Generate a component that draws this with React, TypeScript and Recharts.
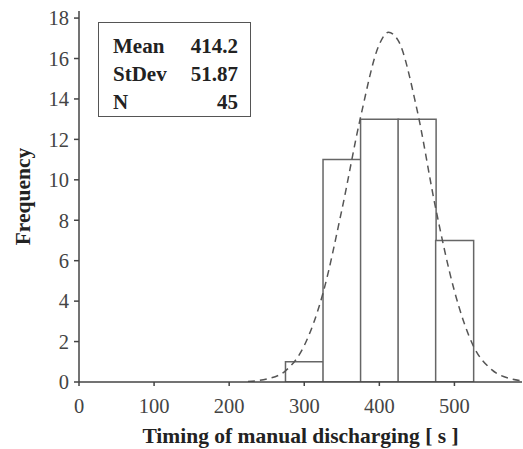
import { ComposedChart, Bar, Line, XAxis, YAxis } from 'recharts';

// histogram bins (bin width 50, centres) and counts
const binMid = [300, 350, 400, 450, 500];
const binCount = [1, 11, 13, 13, 7];

// fitted normal curve
const curveX = [225, 250, 275, 300, 325, 350, 375, 400, 412, 425, 450, 475, 500, 525, 550, 575, 590];
const curveY = [0.03, 0.15, 0.55, 1.8, 4.4, 8.5, 13.1, 16.7, 17.3, 16.9, 13.5, 8.6, 4.5, 1.8, 0.6, 0.16, 0.06];

const xTicks = [0, 100, 200, 300, 400, 500];
const yTicks = [0, 2, 4, 6, 8, 10, 12, 14, 16, 18];

const statLabels = ['Mean', 'StDev', 'N'];
const statValues = ['414.2', '51.87', '45'];

const bars = binMid.map((mid, i) => ({ mid, count: binCount[i] }));
const curve = curveX.map((x, i) => ({ x, y: curveY[i] }));

const font = '"Liberation Serif", "Times New Roman", serif';
const tickStyle = { fontSize: 20.5, fill: '#444', fontFamily: font };

export default function App() {
  return (
    <div style={{ position: 'absolute', left: 0, top: 0, width: 523, height: 449, background: '#fff' }}>
      <ComposedChart
        width={523}
        height={449}
        data={bars}
        margin={{ top: 11, right: 1, left: 0, bottom: 0 }}
        barCategoryGap={0}
        barGap={0}
      >
        <XAxis
          dataKey="mid"
          type="number"
          domain={[0, 590]}
          allowDataOverflow
          ticks={xTicks}
          tickSize={4}
          tickMargin={12}
          height={67}
          stroke="#444"
          strokeWidth={1.5}
          tick={tickStyle}
          label={{
            value: 'Timing of manual discharging [ s ]',
            position: 'insideBottom',
            offset: 6,
            style: { fontSize: 21.5, fontWeight: 'bold', fill: '#222', fontFamily: font },
          }}
        />
        <XAxis xAxisId="curve" dataKey="x" type="number" domain={[0, 590]} allowDataOverflow hide />
        <XAxis
          xAxisId="top"
          orientation="top"
          type="number"
          domain={[0, 590]}
          height={0}
          tick={false}
          tickLine={false}
          stroke="#777"
          strokeWidth={2}
        />
        <YAxis
          domain={[0, 18.35]}
          allowDataOverflow
          ticks={yTicks}
          tickSize={5}
          tickMargin={5}
          width={79}
          stroke="#444"
          strokeWidth={1.5}
          tick={tickStyle}
          label={{
            value: 'Frequency',
            angle: -90,
            position: 'insideLeft',
            offset: 22,
            style: { textAnchor: 'middle', fontSize: 21.5, fontWeight: 'bold', fill: '#222', fontFamily: font },
          }}
        />
        <YAxis
          yAxisId="right"
          orientation="right"
          domain={[0, 18.35]}
          width={0}
          tick={false}
          tickLine={false}
          stroke="#ccc"
        />
        <Bar dataKey="count" fill="#fff" stroke="#666" strokeWidth={1.5} isAnimationActive={false} />
        <Line
          xAxisId="curve"
          data={curve}
          dataKey="y"
          type="monotone"
          stroke="#555"
          strokeWidth={1.5}
          strokeDasharray="7 5"
          dot={false}
          isAnimationActive={false}
        />
      </ComposedChart>
      <div
        style={{
          position: 'absolute',
          left: 98,
          top: 22,
          width: 153,
          height: 95,
          boxSizing: 'border-box',
          border: '1.5px solid #555',
          fontFamily: font,
          fontWeight: 'bold',
          fontSize: 21,
          color: '#222',
          padding: '9px 12px 0 14px',
        }}
      >
        {statLabels.map((label, i) => (
          <div key={label} style={{ display: 'flex', justifyContent: 'space-between', height: 28, lineHeight: '28px' }}>
            <span>{label}</span>
            <span>{statValues[i]}</span>
          </div>
        ))}
      </div>
    </div>
  );
}
